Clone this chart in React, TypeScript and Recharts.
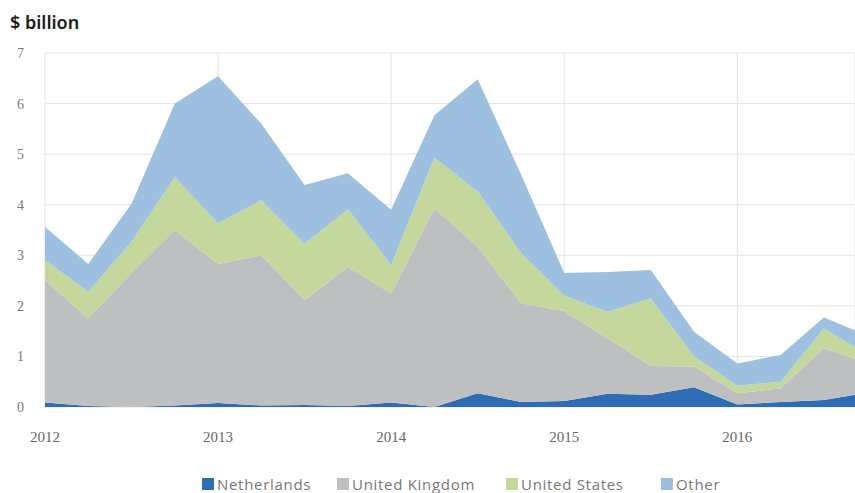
import React from "react";
import { Area, AreaChart, CartesianGrid, XAxis, YAxis } from "recharts";

// Quarterly values, $ billion (2012 Q1 .. 2016 Q4).
const QUARTERS = [
  "2012Q1", "2012Q2", "2012Q3", "2012Q4",
  "2013Q1", "2013Q2", "2013Q3", "2013Q4",
  "2014Q1", "2014Q2", "2014Q3", "2014Q4",
  "2015Q1", "2015Q2", "2015Q3", "2015Q4",
  "2016Q1", "2016Q2", "2016Q3", "2016Q4",
];
const NETHERLANDS = [0.09, 0.02, 0.0, 0.03, 0.08, 0.03, 0.04, 0.02, 0.09, 0.0, 0.27, 0.1, 0.12, 0.26, 0.24, 0.39, 0.05, 0.1, 0.14, 0.28];
const UNITED_KINGDOM = [2.42, 1.73, 2.65, 3.47, 2.75, 2.97, 2.07, 2.75, 2.16, 3.93, 2.9, 1.95, 1.78, 1.1, 0.57, 0.41, 0.22, 0.27, 1.02, 0.6];
const UNITED_STATES = [0.39, 0.53, 0.62, 1.05, 0.8, 1.09, 1.12, 1.14, 0.56, 1.0, 1.09, 1.0, 0.3, 0.52, 1.34, 0.2, 0.15, 0.13, 0.39, 0.16];
const OTHER = [0.66, 0.55, 0.75, 1.45, 2.91, 1.51, 1.16, 0.71, 1.09, 0.84, 2.22, 1.55, 0.45, 0.79, 0.56, 0.49, 0.44, 0.53, 0.22, 0.38];

const YEAR_LABELS = ["2012", "2013", "2014", "2015", "2016"];
const Y_TICKS = [0, 1, 2, 3, 4, 5, 6, 7];

const SERIES = [
  { key: "nl", label: "Netherlands", color: "#2e6db5" },
  { key: "uk", label: "United Kingdom", color: "#bebfc1" },
  { key: "us", label: "United States", color: "#c4d79c" },
  { key: "other", label: "Other", color: "#9dc0e0" },
];

const data = QUARTERS.map((q, i) => ({
  q: i,
  label: q,
  nl: NETHERLANDS[i],
  uk: UNITED_KINGDOM[i],
  us: UNITED_STATES[i],
  other: OTHER[i],
}));

// the reference is cropped a little before the last quarter
const X_MAX = 18.72;

// left edge of each legend swatch, page pixels
const LEGEND_POS = [202, 337, 506, 661];

export default function App() {
  // fixed so the page never grows scrollbars
  return (
    <div style={{ position: "fixed", left: 0, top: 0, width: 855, height: 493, overflow: "hidden", background: "#fff" }}>
      <div
        style={{
          position: "absolute",
          left: 10,
          top: 10,
          fontFamily: "'Noto Sans', sans-serif",
          fontSize: 18,
          fontWeight: 600,
          color: "#1a1a1a",
          lineHeight: "24px",
        }}
      >
        $ billion
      </div>
      <div style={{ position: "absolute", left: 8, top: 8 }}>
        <AreaChart
          width={847}
          height={445}
          data={data}
          margin={{ top: 45, right: 0, bottom: 0, left: 0 }}
        >
          <CartesianGrid stroke="#e4e4e4" />
          <XAxis
            dataKey="q"
            type="number"
            domain={[0, X_MAX]}
            allowDataOverflow
            ticks={[0, 4, 8, 12, 16]}
            tickFormatter={(v: number) => YEAR_LABELS[v / 4]}
            axisLine={false}
            tickLine={false}
            tickSize={0}
            tickMargin={24}
            height={46}
            tick={{ fontSize: 15, fill: "#666", fontFamily: "'Liberation Serif', serif" }}
          />
          <YAxis
            domain={[0, 7]}
            ticks={Y_TICKS}
            axisLine={false}
            tickLine={false}
            tickSize={0}
            tickMargin={21}
            width={37}
            tick={{ fontSize: 14, fill: "#777", fontFamily: "'Liberation Serif', serif" }}
          />
          {SERIES.map((s) => (
            <Area
              key={s.key}
              type="linear"
              dataKey={s.key}
              name={s.label}
              stackId="a"
              stroke="none"
              fill={s.color}
              fillOpacity={1}
              isAnimationActive={false}
            />
          ))}
        </AreaChart>
      </div>
      {SERIES.map((s, i) => (
        <div
          key={s.key}
          style={{
            position: "absolute",
            left: LEGEND_POS[i],
            top: 475,
            display: "flex",
            alignItems: "center",
            whiteSpace: "nowrap",
            fontFamily: "'Open Sans', sans-serif",
            fontSize: 15,
            lineHeight: "18px",
            letterSpacing: 0.7,
            color: "#777",
          }}
        >
          <span style={{ width: 12, height: 12, background: s.color, marginRight: 3, display: "inline-block" }} />
          {s.label}
        </div>
      ))}
    </div>
  );
}
